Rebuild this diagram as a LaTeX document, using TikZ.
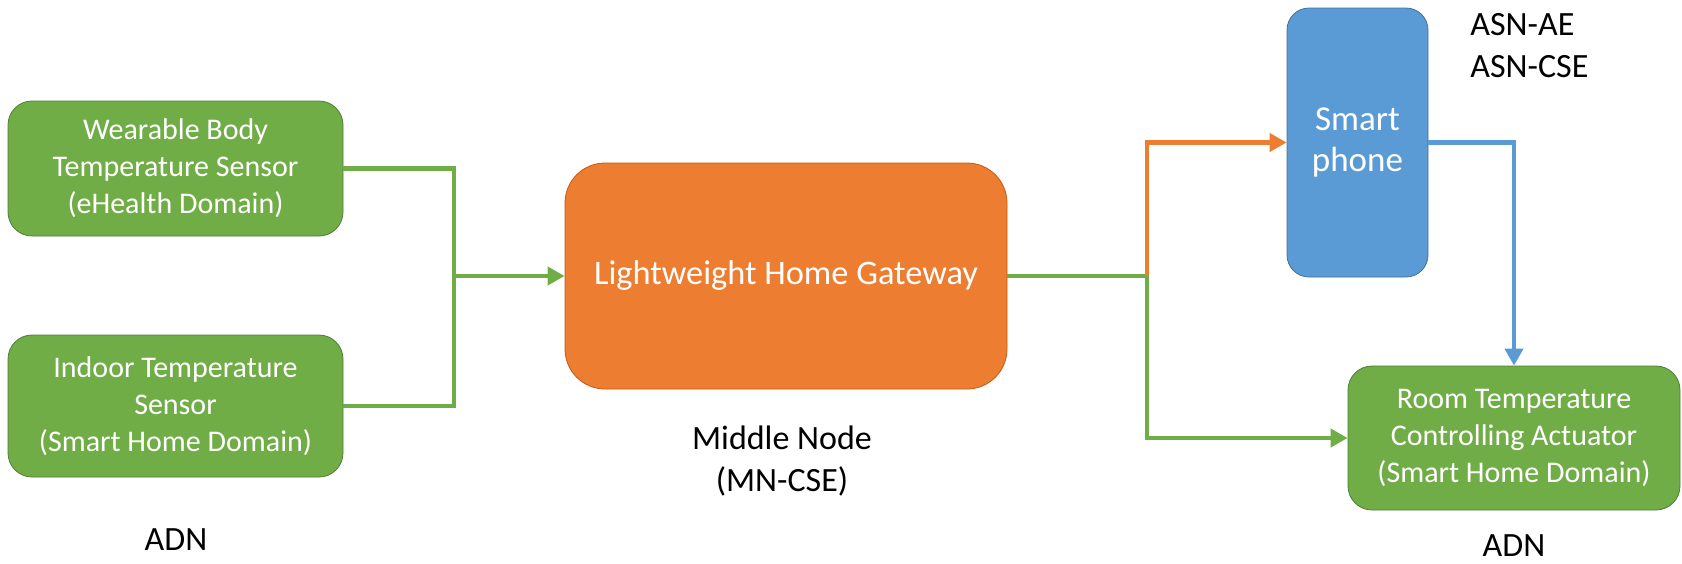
\documentclass[tikz,border=0pt]{standalone}
\usepackage{fontspec}
\setmainfont{Carlito}
\usetikzlibrary{arrows.meta,positioning}
\definecolor{devgreen}{HTML}{70AD47}
\definecolor{devgreendark}{HTML}{507E32}
\definecolor{gworange}{HTML}{ED7D31}
\definecolor{gworangedark}{HTML}{C55A11}
\definecolor{phoneblue}{HTML}{5B9BD5}
\definecolor{phonebluedark}{HTML}{41719C}

\begin{document}
\begin{tikzpicture}[x=0.5pt, y=-0.5pt,
    device/.style={rectangle, rounded corners=12pt, draw=devgreendark, fill=devgreen, text=white,
                   align=center, inner sep=0pt, minimum width=167.5pt,
                   font=\fontsize{15}{18.5}\selectfont},
    gateway/.style={device, rounded corners=20pt, draw=gworangedark, fill=gworange,
                    minimum width=221pt, minimum height=113pt, font=\fontsize{17.2}{21}\selectfont},
    phone/.style={device, rounded corners=11pt, draw=phonebluedark, fill=phoneblue,
                  minimum width=70.5pt, minimum height=134.5pt, font=\fontsize{17.5}{20.5}\selectfont},
    role/.style={align=center, inner sep=0pt, font=\fontsize{17}{21}\selectfont},
    flow/.style={line width=2.4pt, draw=#1, -{Triangle[length=8.5pt,width=9pt]}},
    wire/.style={line width=2.4pt, draw=#1}
]
    \useasboundingbox (0,0) rectangle (1682,563);
    % devices
    \node[device, minimum height=67.5pt] (wear) at (175.5,168.5) {Wearable Body\\Temperature Sensor\\(eHealth Domain)};
    \node[device, minimum height=71pt] (indoor) at (175.5,406) {Indoor Temperature\\Sensor\\(Smart Home Domain)};
    \node[gateway] (gw) at (786,276) {Lightweight Home Gateway};
    \node[phone] (phone) at (1357.5,142.5) {Smart\\phone};
    \node[device, minimum width=166pt, minimum height=72pt] (act) at (1514,438) {Room Temperature\\Controlling Actuator\\(Smart Home Domain)};
    % roles
    \node[role] (adnl) at (176,540) {ADN};
    \node[role] (mn) at (782,461) {Middle Node\\(MN-CSE)};
    \node[role, align=left, anchor=west] (asn) at (1470,46) {ASN-AE\\ASN-CSE};
    \node[role] (adnr) at (1514,546) {ADN};
    % links
    \coordinate (join) at (454,276);
    \coordinate (fork) at (1147,276);
    \draw[wire=devgreen] (wear.east) -| (join) |- (indoor.east);
    \draw[flow=devgreen] (join) -- (gw.west);
    \draw[wire=devgreen] (gw.east) -- (fork);
    \draw[flow=gworange] (fork) |- (phone.west);
    \draw[flow=devgreen] (fork) |- (act.west);
    \draw[flow=phoneblue] (phone.east) -| (act.north);
\end{tikzpicture}
\end{document}
